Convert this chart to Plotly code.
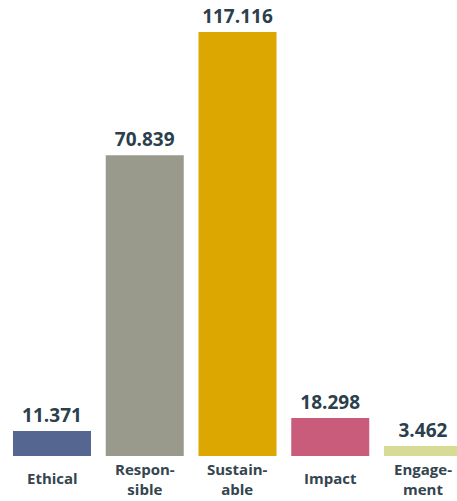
import plotly.graph_objects as go

categories = ["Ethical", "Respon-<br>sible", "Sustain-<br>able", "Impact", "Engage-<br>ment"]
value_labels = ["11.371", "70.839", "117.116", "18.298", "3.462"]
# bar heights as drawn in the picture (infographic, not proportional), on the scale of the largest value
drawn_heights = [6.9, 83.1, 117.116, 10.5, 2.76]
colors = ["#556690", "#999a8c", "#dca700", "#c95c7a", "#d6dc95"]

text_color = "#2b3f4c"
x_pos = list(range(len(categories)))

fig = go.Figure()
fig.add_trace(go.Bar(
    x=x_pos, y=drawn_heights,
    marker=dict(color=colors, line=dict(width=0)),
    width=0.841,
    text=value_labels, textposition="outside",
    textfont=dict(family="Open Sans", size=19, color=text_color, weight="bold"),
    cliponaxis=False,
    hoverinfo="skip",
))

plot_h = 456
for i, c in enumerate(categories):
    off = 21.5 if "<br>" not in c else 23
    fig.add_annotation(
        x=i, y=-off / plot_h, xref="x", yref="paper",
        text=c, showarrow=False, yanchor="middle",
        font=dict(family="Open Sans", size=15, color="#34454f", weight="bold"),
        align="center",
    )

fig.update_layout(
    width=457, height=501,
    margin=dict(l=0, r=0, t=0, b=45),
    paper_bgcolor="white", plot_bgcolor="white",
    showlegend=False,
    xaxis=dict(range=[-0.5606, 4.3666], showticklabels=False, showgrid=False,
               zeroline=False, showline=False, ticks=""),
    yaxis=dict(range=[0, plot_h / 3.62], showticklabels=False, showgrid=False,
               zeroline=False, showline=False, ticks=""),
    uniformtext=dict(mode=False),
)

fig.write_html("out.html")
